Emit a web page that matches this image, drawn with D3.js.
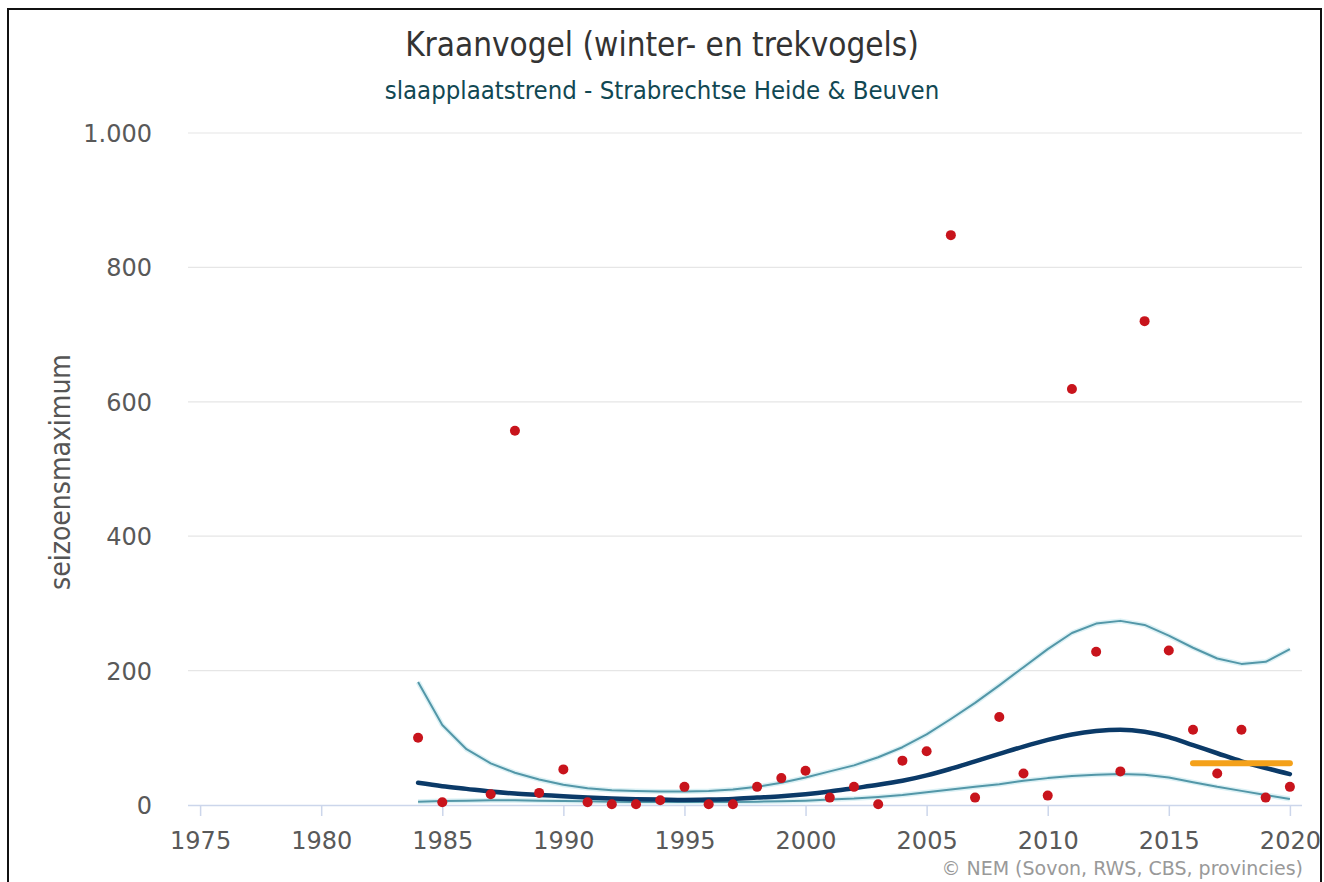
<!DOCTYPE html>
<html>
<head>
<meta charset="utf-8">
<script src="https://cdn.jsdelivr.net/npm/d3@7"></script>
<style>
  html, body { margin: 0; padding: 0; background: #fff; }
  svg { display: block; }
</style>
</head>
<body>
<svg id="chart" width="1324" height="882"></svg>
<script>
// Seasons (years) with a modelled trend value
const years = d3.range(1984, 2021);

// Counted season maxima per year (no count in 1986)
const countYears = [1984, 1985, 1987, 1988, 1989, 1990, 1991, 1992, 1993, 1994, 1995, 1996, 1997, 1998, 1999,
  2000, 2001, 2002, 2003, 2004, 2005, 2006, 2007, 2008, 2009, 2010, 2011, 2012, 2013, 2014, 2015, 2016, 2017,
  2018, 2019, 2020];
const counts = [100, 4, 16, 557, 18, 53, 4, 1, 1, 7, 27, 1, 1, 27, 40,
  51, 11, 27, 1, 66, 80, 848, 11, 131, 47, 14, 619, 228, 50, 720, 230, 112, 47,
  112, 11, 27];

// Smoothed trend and its upper / lower confidence limits
const trend = [33, 28, 24, 20, 17, 15, 13, 11, 9.5, 8.5, 8, 7.5, 8, 9, 11, 13, 16, 20, 25, 30, 36, 44,
  54, 65, 76, 87, 97, 105, 110, 112, 109, 101, 89, 77, 65, 55, 46];
const upper = [183, 119, 83, 62, 48, 38, 30, 25, 22, 21, 20, 20, 21, 23, 27, 33, 41, 50, 59, 71, 86, 105,
  128, 152, 178, 205, 232, 256, 270, 274, 268, 252, 234, 218, 210, 213, 232];
const lower = [5, 6, 6.5, 7, 7, 6.5, 6, 5.5, 5, 4.5, 4.5, 4.5, 4.5, 4.5, 5, 5.5, 6.5, 8, 9.5, 12, 15, 19,
  23, 27, 31, 36, 40, 43, 45, 46, 45, 41, 34, 27, 21, 15, 9];

// Mean over the most recent seasons
const recentYears = [2016, 2020];
const recentMean = 62;

const yTicks = [0, 200, 400, 600, 800, 1000];
const xTicks = [1975, 1980, 1985, 1990, 1995, 2000, 2005, 2010, 2015, 2020];

const titleText = "Kraanvogel (winter- en trekvogels)";
const subtitleText = "slaapplaatstrend - Strabrechtse Heide & Beuven";
const yTitleText = "seizoensmaximum";
const creditText = "\u00A9 NEM (Sovon, RWS, CBS, provincies)";

const svg = d3.select("#chart");

const plot = { left: 188, right: 1302, top: 133, bottom: 805 };

const x = d3.scaleLinear().domain([1974.5, 2020.5]).range([plot.left, plot.right]);
const y = d3.scaleLinear().domain([0, 1000]).range([plot.bottom, plot.top]);

const nl = d3.formatLocale({ decimal: ",", thousands: ".", grouping: [3], currency: ["", ""] });
const fmt = nl.format(",d");

const condensed = "'DejaVu Sans Condensed', 'DejaVu Sans', sans-serif";
const wide = "'DejaVu Sans', Verdana, sans-serif";

// frame
svg.append("path")
  .attr("d", "M8,892 L8,9 L1321,9 L1321,892")
  .attr("fill", "none")
  .attr("stroke", "#111")
  .attr("stroke-width", 2);

// horizontal grid lines
svg.append("g")
  .selectAll("line")
  .data(yTicks.filter(d => d > 0))
  .join("line")
  .attr("x1", plot.left).attr("x2", plot.right)
  .attr("y1", d => y(d)).attr("y2", d => y(d))
  .attr("stroke", "#e6e6e6")
  .attr("stroke-width", 1.2);

// y axis labels
const yAxis = d3.axisLeft(y).tickValues(yTicks).tickFormat(fmt).tickSize(0).tickPadding(0);
const gy = svg.append("g").attr("transform", "translate(152,0)").call(yAxis);
gy.select(".domain").remove();
gy.selectAll("text")
  .attr("font-family", wide)
  .attr("font-size", 24)
  .attr("fill", "#595959")
  .attr("dy", "0.35em");

// x axis
const xAxis = d3.axisBottom(x).tickValues(xTicks).tickFormat(d3.format("d")).tickSize(11).tickPadding(16);
const gx = svg.append("g").attr("transform", `translate(0,${plot.bottom})`).call(xAxis);
gx.select(".domain")
  .attr("d", `M${plot.left},0.5H${plot.right}`)
  .attr("stroke", "#ccd6eb")
  .attr("stroke-width", 1.5);
gx.selectAll(".tick line").attr("stroke", "#ccd6eb").attr("stroke-width", 1.5);
gx.selectAll("text")
  .attr("font-family", wide)
  .attr("font-size", 24)
  .attr("fill", "#595959");

// confidence limits
const lineGen = d3.line().x((d, i) => x(years[i])).y(d => y(d));
[upper, lower].forEach(series => {
  svg.append("path")
    .datum(series)
    .attr("d", lineGen)
    .attr("fill", "none")
    .attr("stroke", "#dcf1f5")
    .attr("stroke-width", 5)
    .attr("stroke-linejoin", "round");
  svg.append("path")
    .datum(series)
    .attr("d", lineGen)
    .attr("fill", "none")
    .attr("stroke", "#5397a8")
    .attr("stroke-width", 2)
    .attr("stroke-linejoin", "round");
});

// trend line
svg.append("path")
  .datum(trend)
  .attr("d", d3.line().x((d, i) => x(years[i])).y(d => y(d)).curve(d3.curveMonotoneX))
  .attr("fill", "none")
  .attr("stroke", "#0b3a68")
  .attr("stroke-width", 4.5)
  .attr("stroke-linejoin", "round")
  .attr("stroke-linecap", "round");

// recent mean
svg.append("line")
  .attr("x1", x(recentYears[0])).attr("x2", x(recentYears[1]))
  .attr("y1", y(recentMean)).attr("y2", y(recentMean))
  .attr("stroke", "#f4a11a")
  .attr("stroke-width", 6)
  .attr("stroke-linecap", "round");

// counts
svg.append("g")
  .selectAll("circle")
  .data(countYears.map((yr, i) => ({ yr, v: counts[i] })))
  .join("circle")
  .attr("cx", d => x(d.yr))
  .attr("cy", d => y(d.v))
  .attr("r", 5)
  .attr("fill", "#c8141c");

// titles
svg.append("text")
  .attr("x", 662).attr("y", 56)
  .attr("text-anchor", "middle")
  .attr("font-family", condensed)
  .attr("font-size", 33)
  .attr("fill", "#333")
  .text(titleText);

svg.append("text")
  .attr("x", 662).attr("y", 99)
  .attr("text-anchor", "middle")
  .attr("font-family", condensed)
  .attr("font-size", 25.5)
  .attr("fill", "#114853")
  .text(subtitleText);

svg.append("text")
  .attr("transform", "translate(70,472) rotate(-90)")
  .attr("text-anchor", "middle")
  .attr("font-family", condensed)
  .attr("font-size", 28)
  .attr("fill", "#555")
  .text(yTitleText);

svg.append("text")
  .attr("x", 1303).attr("y", 875)
  .attr("text-anchor", "end")
  .attr("font-family", wide)
  .attr("font-size", 19)
  .attr("fill", "#999")
  .text(creditText);
</script>
</body>
</html>
